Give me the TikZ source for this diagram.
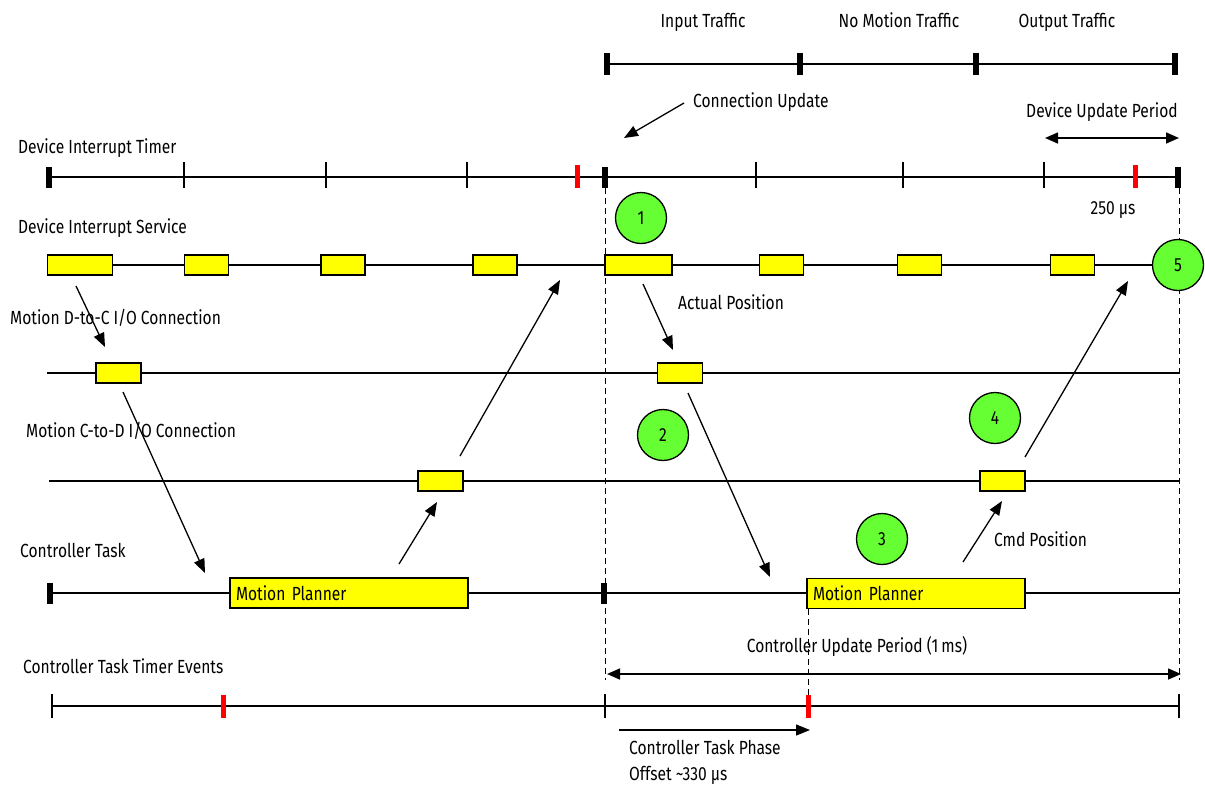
\documentclass[tikz,border=0pt]{standalone}
\usepackage{fontspec}
\setmainfont{Fira Sans}[FakeStretch=0.82]
\usetikzlibrary{arrows.meta}
\definecolor{boxyellow}{HTML}{FFFF00}
\definecolor{stepgreen}{HTML}{66FF33}
\tikzset{
  lane/.style={line width=1.3pt},
  ybox/.style={draw, fill=boxyellow, line width=1.3pt, minimum width=44pt,
    minimum height=20pt, inner sep=0pt},
  planbox/.style={ybox, minimum height=30pt, inner xsep=6pt, align=left},
  stepnum/.style={circle, draw, fill=stepgreen, line width=1.3pt,
    minimum size=51pt, inner sep=0pt},
  lbl/.style={anchor=base west, inner sep=0pt},
  clbl/.style={anchor=base, inner sep=0pt},
  bigtick/.style={line width=5.5pt},
  redtick/.style={line width=5pt, red},
  period/.style={dashed, dash pattern=on 6pt off 4pt, line width=1pt},
  flow/.style={line width=1.3pt, -{Triangle[length=14pt,width=11pt]}},
  span/.style={line width=1.6pt, {Triangle[length=13pt,width=11pt]}-{Triangle[length=13pt,width=11pt]}}
}
\begin{document}
\begin{tikzpicture}[x=1pt, y=-1pt, font=\fontsize{19}{22}\selectfont]
  \useasboundingbox (0,0) rectangle (1205,785);
  %% Traffic bar on top
  \draw[lane] (607,64) -- (1175,64);
  \foreach \x in {607,800,976,1175}
    \draw[bigtick] (\x,53) -- (\x,75);
  \node[clbl] (tin)  at (703,27)  {Input Traffic};
  \node[clbl] (tnom) at (899,27)  {No Motion Traffic};
  \node[clbl] (tout) at (1067,27) {Output Traffic};
  \node[lbl] (cupd) at (693,107) {Connection Update};
  \coordinate (cupds) at (684,103);
  \coordinate (cupde) at (624,138);
  \draw[flow] (cupds) -- (cupde);
  %% Device Interrupt Timer
  \node[lbl] (ldit) at (18,153) {Device Interrupt Timer};
  \draw[lane] (48,177) -- (1179,177);
  \foreach \x in {184,326,467,756,903,1044}
    \draw[lane] (\x,162) -- (\x,188);
  \foreach \x in {49,605,1178}
    \draw[bigtick] (\x,167) -- (\x,188);
  \foreach \x in {577,1135}
    \draw[redtick] (\x,165) -- (\x,188);
  \node[clbl] (ldup) at (1102,117) {Device Update Period};
  \coordinate (dupa) at (1045,138);
  \coordinate (dupb) at (1179,138);
  \draw[span] (dupa) -- (dupb);
  \node[clbl] (l250) at (1113,214) {250 µs};
  %% Period markers (dashed)
  \draw[period] (605,188) -- (605,680);
  \draw[period] (1179,188) -- (1179,680);
  \draw[period] (808,609) -- (808,695);
  %% Device Interrupt Service
  \node[lbl] (ldis) at (18,233) {Device Interrupt Service};
  \node[stepnum] (c5) at (1178,265) {5};
  \draw[lane] (48,265) -- (c5.west);
  \foreach \n/\x/\w in {1/80/65, 2/206.5/44, 3/343/44, 4/495/44,
                        5/638.5/67, 6/781.5/44, 7/919.5/44, 8/1072.5/44}
    \node[ybox, minimum width=\w] (dis\n) at (\x,265) {};
  \node[stepnum] (c1) at (641,218) {1};
  %% Motion D-to-C I/O Connection
  \node[lbl] (ldtc) at (10,324) {Motion D-to-C I/O Connection};
  \draw[lane] (47,373) -- (1179,373);
  \node[ybox, minimum width=45] (dtc1) at (118.5,373) {};
  \node[ybox, minimum width=45] (dtc2) at (680,373) {};
  \node[lbl] (lact) at (678,309) {Actual Position};
  %% Motion C-to-D I/O Connection
  \node[lbl] (lctd) at (26,437) {Motion C-to-D I/O Connection};
  \draw[lane] (49,481) -- (1179,481);
  \node[ybox, minimum width=45] (ctd1) at (440.5,481) {};
  \node[ybox, minimum width=45] (ctd2) at (1002.5,481) {};
  \node[stepnum] (c2) at (663,435) {2};
  \node[stepnum] (c4) at (995,418) {4};
  %% Controller Task
  \node[lbl] (lct) at (20,557) {Controller Task};
  \draw[lane] (50,593) -- (1179,593);
  \foreach \x in {50,604}
    \draw[bigtick] (\x,583) -- (\x,604);
  \node[planbox, text width=226pt] (mp1) at (349,593) {Motion Planner};
  \node[planbox, text width=206pt] (mp2) at (916,593.5) {Motion Planner};
  \node[stepnum] (c3) at (882,539) {3};
  \node[lbl] (lcmd) at (994,546) {Cmd Position};
  %% Data flow arrows
  \coordinate (f1a) at (76,286);  \coordinate (f1b) at (105,347);
  \coordinate (f2a) at (123,392); \coordinate (f2b) at (205,573);
  \coordinate (f3a) at (399,564); \coordinate (f3b) at (437,502);
  \coordinate (f4a) at (460,456); \coordinate (f4b) at (560,280);
  \coordinate (f5a) at (643,284); \coordinate (f5b) at (673,350);
  \coordinate (f6a) at (688,393); \coordinate (f6b) at (770,577);
  \coordinate (f7a) at (963,562); \coordinate (f7b) at (1002,501);
  \coordinate (f8a) at (1025,457); \coordinate (f8b) at (1128,281);
  \foreach \i in {1,...,8}
    \draw[flow] (f\i a) -- (f\i b);
  %% Controller Task Timer Events
  \node[clbl] (lcup) at (857,652) {Controller Update Period (1\,ms)};
  \coordinate (cupa) at (607,674);
  \coordinate (cupb) at (1181,674);
  \draw[span] (cupa) -- (cupb);
  \node[lbl] (lctte) at (23,673) {Controller Task Timer Events};
  \draw[lane] (52,706) -- (1179,706);
  \foreach \x in {52,605,1179}
    \draw[lane] (\x,694) -- (\x,718);
  \foreach \x in {223,808}
    \draw[redtick] (\x,695) -- (\x,718);
  \coordinate (phsa) at (619,730);
  \coordinate (phsb) at (810,730);
  \draw[flow] (phsa) -- (phsb);
  \node[lbl] (lph1) at (629,754) {Controller Task Phase};
  \node[lbl] (lph2) at (629,780) {Offset \textasciitilde330 µs};
\end{tikzpicture}
\end{document}
